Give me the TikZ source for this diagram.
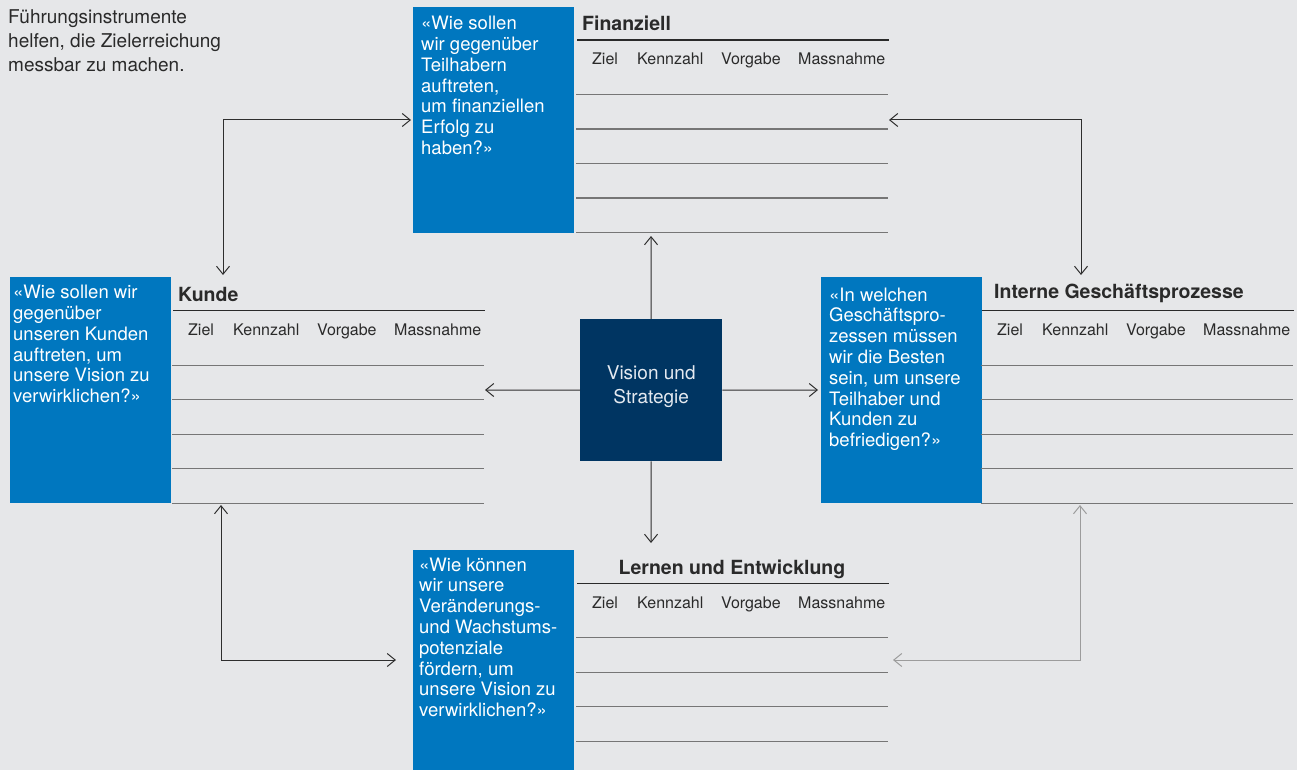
\documentclass[tikz,border=0pt]{standalone}
\usepackage{fontspec}
\setmainfont{TeX Gyre Heros}
\usetikzlibrary{arrows.meta}
\definecolor{bg}{HTML}{E6E7E9}
\definecolor{bscblue}{HTML}{0077BF}
\definecolor{navy}{HTML}{003562}
\definecolor{txt}{HTML}{2A2A2A}
\definecolor{rowc}{HTML}{767676}
\definecolor{arrc}{HTML}{2E2E2E}
\definecolor{garrc}{HTML}{9C9C9C}
\definecolor{vtxt}{HTML}{E4E9F0}
\tikzset{
  >={Straight Barb[length=8pt,width=13pt]},
  qbox/.style={fill=bscblue, draw=none, inner sep=0pt, anchor=north west, minimum width=161pt},
  qtext/.style={text=white, inner sep=0pt, anchor=north west, align=left, font=\fontsize{18.5}{20.8}\selectfont},
  ttl/.style={text=txt, inner sep=0pt, anchor=base west, font=\fontsize{19.5}{22}\selectfont\bfseries},
  colhead/.style={text=txt, inner sep=0pt, anchor=base west, font=\fontsize{16}{19}\selectfont},
  headrule/.style={draw=txt, line width=1.5pt},
  rowrule/.style={draw=rowc, line width=1.3pt},
  arr/.style={draw=arrc, line width=1pt},
  garr/.style={draw=garrc, line width=1pt},
}
\newcommand{\bsctable}[4]{% prefix, x, y of header rule, number of row rules
  \draw[headrule] (#2,#3) -- ++(312,0);
  \node[colhead] (#1ziel) at (#2+15,#3+25) {Ziel};
  \node[colhead] (#1kenn) at (#2+60,#3+25) {Kennzahl};
  \node[colhead] (#1vorg) at (#2+144,#3+25) {Vorgabe};
  \node[colhead] (#1mass) at (#2+221,#3+25) {Massnahme};
  \foreach \k in {1,...,#4} \draw[rowrule] (#2-1,#3+54.5+34.5*\k-34.5) -- ++(312,0);
}
\begin{document}
\begin{tikzpicture}[x=1pt,y=-1pt]
\useasboundingbox (0,0) rectangle (1297,770);
\fill[bg] (0,0) rectangle (1297,770);

% intro text
\node[text=txt, inner sep=0pt, anchor=north west, align=left, font=\fontsize{19}{24}\selectfont] (intro) at (8,9)
  {Führungsinstrumente\\helfen, die Zielerreichung\\messbar zu machen.};

% Finanziell
\node[qbox, minimum height=226pt] (fbox) at (413,7) {};
\node[qtext] (ftext) at (421,16) {«Wie sollen\\wir gegenüber\\Teilhabern\\auftreten,\\um finanziellen\\Erfolg zu\\haben?»};
\node[ttl] (ftitle) at (582,31) {Finanziell};
\bsctable{f}{577}{40}{5}

% Kunde
\node[qbox, minimum height=226pt] (kbox) at (10,277) {};
\node[qtext] (ktext) at (13,285) {«Wie sollen wir\\gegenüber\\unseren Kunden\\auftreten, um\\unsere Vision zu\\verwirklichen?»};
\node[ttl] (ktitle) at (178,301) {Kunde};
\bsctable{k}{173}{310.7}{5}

% Interne Geschäftsprozesse
\node[qbox, minimum height=226pt] (ibox) at (821,277) {};
\node[qtext] (itext) at (829,287.5) {«In welchen\\Geschäftspro-\\zessen müssen\\wir die Besten\\sein, um unsere\\Teilhaber und\\Kunden zu\\befriedigen?»};
\node[ttl] (ititle) at (994,298.5) {Interne Geschäftsprozesse};
\bsctable{i}{982}{310.7}{5}

% Lernen und Entwicklung
\node[qbox, minimum height=220pt] (lbox) at (413,550) {};
\node[qtext] (ltext) at (419,557.5) {«Wie können\\wir unsere\\Veränderungs-\\und Wachstums-\\potenziale\\fördern, um\\unsere Vision zu\\verwirklichen?»};
\node[ttl, anchor=base] (ltitle) at (732,574) {Lernen und Entwicklung};
\bsctable{l}{577}{583.3}{4}

% Vision und Strategie
\node[fill=navy, minimum width=142pt, minimum height=142pt, inner sep=0pt, anchor=north west] (vs) at (580,319) {};
\node[text=vtxt, inner sep=0pt, align=center, font=\fontsize{19}{24}\selectfont, yshift=3.5pt] (vstext) at (vs.center) {Vision und\\Strategie};

% connector end points
\coordinate (fbot) at (651,236);
\coordinate (ltop) at (651,543);
\coordinate (kright) at (485,390);
\coordinate (ileft) at (818,390);
\coordinate (ktop) at (223,275);
\coordinate (fleft) at (411,120);
\coordinate (fright) at (889,120);
\coordinate (itop) at (1081,275);
\coordinate (kbot) at (221,505);
\coordinate (lleft) at (396,660);
\coordinate (ibot) at (1080,505);
\coordinate (lright) at (893,660);

% connectors from the centre
\draw[arr,->] (vs.north) -- (fbot);
\draw[arr,->] (vs.south) -- (ltop);
\draw[arr,->] (vs.west) -- (kright);
\draw[arr,->] (vs.east) -- (ileft);

% connectors between perspectives
\draw[arr,<->] (ktop) |- (fleft);
\draw[arr,<->] (fright) -| (itop);
\draw[arr,<->] (kbot) |- (lleft);
\draw[garr,<->] (ibot) |- (lright);
\end{tikzpicture}
\end{document}
